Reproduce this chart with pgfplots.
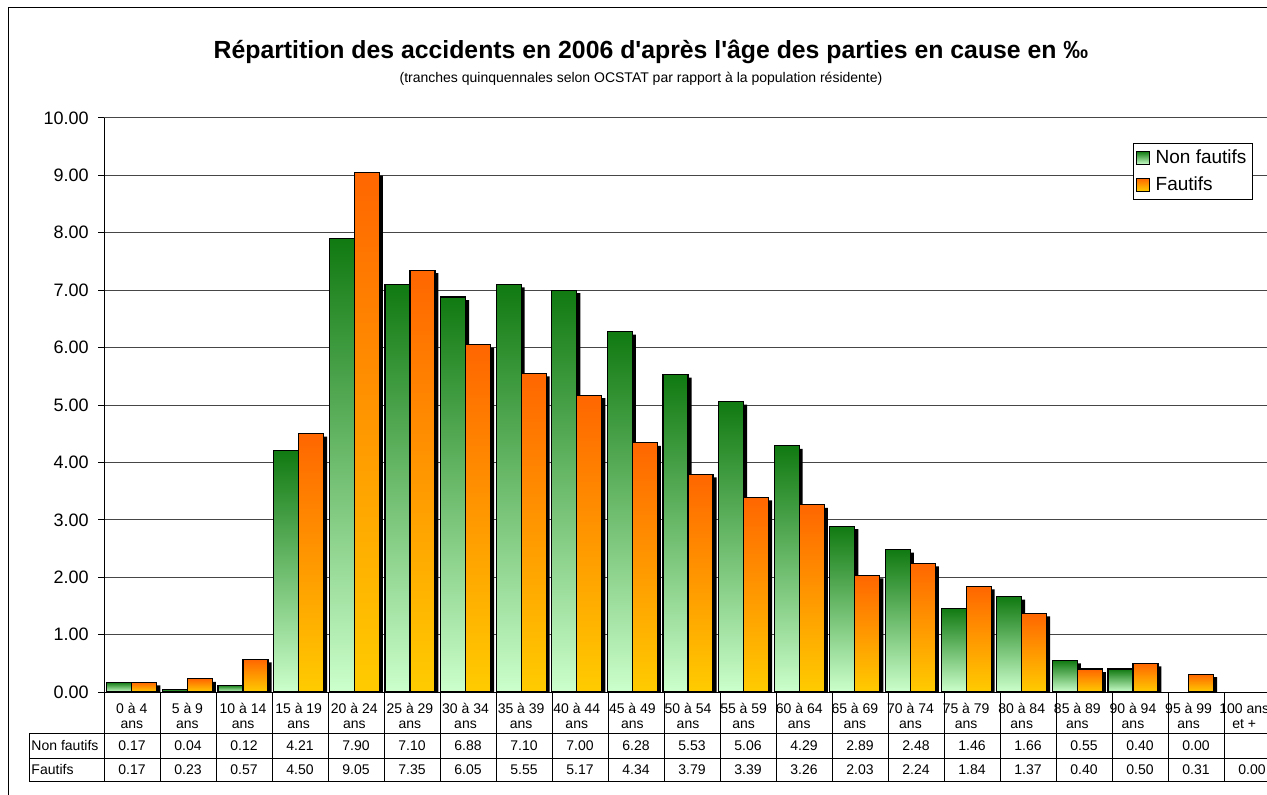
\documentclass[border=0pt]{standalone}
\usepackage{pgfplots}
\usepackage{pgfplotstable}
\pgfplotsset{compat=1.18}
\usepackage{fontspec}
\setmainfont{Liberation Sans}
\definecolor{gtop}{RGB}{17,122,17}
\definecolor{gbot}{RGB}{204,255,204}
\definecolor{otop}{RGB}{255,102,0}
\definecolor{obot}{RGB}{255,204,0}
\definecolor{gridc}{RGB}{70,70,70}
\pgfplotstableread{
idx nf f
0 0.17 0.17
1 0.04 0.23
2 0.12 0.57
3 4.21 4.50
4 7.90 9.05
5 7.10 7.35
6 6.88 6.05
7 7.10 5.55
8 7.00 5.17
9 6.28 4.34
10 5.53 3.79
11 5.06 3.39
12 4.29 3.26
13 2.89 2.03
14 2.48 2.24
15 1.46 1.84
16 1.66 1.37
17 0.55 0.40
18 0.40 0.50
19 0.00 0.31
20 nan 0.00
}\datatable
\pgfplotsset{
  shadowbar/.style={ybar, bar width=12.5pt, fill=black, draw=none, forget plot, yshift=-1.5pt, restrict y to domain=0.001:20},
  nfbar/.style={ybar, bar width=12.5pt, bar shift=-6.25pt, draw=black, line width=0.6pt, top color=gtop, bottom color=gbot, forget plot, restrict y to domain=0.001:20},
  fbar/.style={ybar, bar width=12.5pt, bar shift=6.25pt, draw=black, line width=0.6pt, top color=otop, bottom color=obot, forget plot, restrict y to domain=0.001:20},
}
\begin{document}
\begin{tikzpicture}
\useasboundingbox (0,0) rectangle (633.5pt,397pt);
\begin{axis}[
  at={(52pt,51pt)}, anchor=south west,
  scale only axis, width=584pt, height=287pt,
  xmin=-0.5, xmax=20.5, ymin=0, ymax=10,
  enlargelimits=false,
  axis x line*=bottom, axis y line*=left,
  axis line style={black, line width=0.5pt},
  xtick={0,...,20},
  xticklabels={{0 à 4\\ans},{5 à 9\\ans},{10 à 14\\ans},{15 à 19\\ans},{20 à 24\\ans},{25 à 29\\ans},{30 à 34\\ans},{35 à 39\\ans},{40 à 44\\ans},{45 à 49\\ans},{50 à 54\\ans},{55 à 59\\ans},{60 à 64\\ans},{65 à 69\\ans},{70 à 74\\ans},{75 à 79\\ans},{80 à 84\\ans},{85 à 89\\ans},{90 à 94\\ans},{95 à 99\\ans},{100 ans\\et +}},
  xticklabel style={align=center, anchor=north, inner sep=0pt, yshift=-2.5pt, font=\fontsize{7}{7.5}\selectfont},
  x tick style={draw=none},
  ytick={0,1,...,10},
  /pgf/number format/assume math mode=true,
  yticklabel={\pgfmathprintnumber[fixed,fixed zerofill,precision=2]{\tick}},
  yticklabel style={font=\fontsize{9}{10}\selectfont, inner sep=0pt, xshift=-4.5pt},
  y tick style={black, line width=0.5pt},
  tick align=outside, major tick length=3pt,
  ymajorgrids, grid style={gridc, line width=0.5pt},
  legend style={at={(0.9837,0.9564)}, anchor=north east, draw=black, line width=0.5pt, fill=white,
    font=\fontsize{9.5}{11}\selectfont, inner sep=1pt, row sep=1pt, column sep=1pt},
  legend cell align=left,
]
\addlegendimage{legend image code/.code={\path[draw=black, line width=0.5pt, top color=gtop, bottom color=gbot] (0pt,-3.2pt) rectangle (6.5pt,3.2pt);}}
\addlegendentry{Non fautifs}
\addlegendimage{legend image code/.code={\path[draw=black, line width=0.5pt, top color=otop, bottom color=obot] (0pt,-3.2pt) rectangle (6.5pt,3.2pt);}}
\addlegendentry{Fautifs}
% shadows and bars, non fautifs
\addplot[shadowbar, bar shift=-4.5pt] table[x=idx, y=nf]{\datatable};
\pgfplotsinvokeforeach{0,...,19}{
  \addplot[nfbar, restrict expr to domain={\coordindex}{#1:#1}] table[x=idx, y=nf]{\datatable};
}
% shadows and bars, fautifs
\addplot[shadowbar, bar shift=8pt] table[x=idx, y=f]{\datatable};
\pgfplotsinvokeforeach{0,...,20}{
  \addplot[fbar, restrict expr to domain={\coordindex}{#1:#1}] table[x=idx, y=f]{\datatable};
}
\end{axis}
\begin{scope}[x=0.5pt,y=0.5pt, line width=0.5pt]
  % outer frame
  \draw (8,-10) -- (8,786) -- (1300,786);
  % title
  \node at (651,742) {\bfseries\fontsize{12.4}{14}\selectfont Répartition des accidents en 2006 d\textquotesingle après l\textquotesingle âge des parties en cause en ‰};
  \node at (641,715) {\fontsize{7}{8}\selectfont (tranches quinquennales selon OCSTAT par rapport à la population résidente)};
  % data table
  \draw (29,61) -- (1300,61);
  \draw (29,36) -- (1300,36);
  \draw (29,13) -- (1300,13);
  \draw (29,61) -- (29,13);
  \foreach \k in {0,...,21} \draw (104+56*\k,102) -- (104+56*\k,13);
  \node[anchor=west, inner sep=0pt, font=\fontsize{7}{8}\selectfont] at (31,48.5) {Non fautifs};
  \node[anchor=west, inner sep=0pt, font=\fontsize{7}{8}\selectfont] at (31,24.5) {Fautifs};
  \foreach \v [count=\i from 0] in {0.17,0.04,0.12,4.21,7.90,7.10,6.88,7.10,7.00,6.28,5.53,5.06,4.29,2.89,2.48,1.46,1.66,0.55,0.40,0.00}
    \node[font=\fontsize{7}{8}\selectfont] at (132+56*\i,48.5) {\v};
  \foreach \v [count=\i from 0] in {0.17,0.23,0.57,4.50,9.05,7.35,6.05,5.55,5.17,4.34,3.79,3.39,3.26,2.03,2.24,1.84,1.37,0.40,0.50,0.31,0.00}
    \node[font=\fontsize{7}{8}\selectfont] at (132+56*\i,24.5) {\v};
\end{scope}
\end{tikzpicture}
\end{document}
